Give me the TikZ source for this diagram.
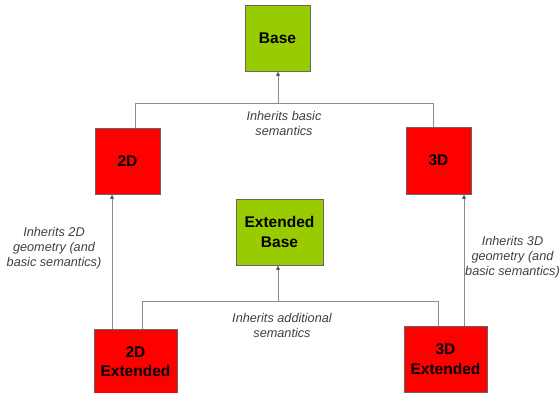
\documentclass[tikz,border=0pt]{standalone}
\usepackage{fontspec}
\setmainfont{Liberation Sans}
\usetikzlibrary{arrows.meta}

\definecolor{limegreen}{HTML}{99CC00}
\definecolor{boxred}{HTML}{FF0000}

\begin{document}
\begin{tikzpicture}[x=1pt,y=-1pt,
    box/.style={draw=black!60, inner sep=0pt, align=center,
      font=\fontsize{15.5}{19.5}\selectfont\bfseries},
    base/.style={box, fill=limegreen},
    kind/.style={box, fill=boxred},
    link/.style={draw=black!45, line width=0.8pt},
    inherit/.style={link, -{Triangle[length=5pt,width=4.5pt,fill=black]}},
    note/.style={align=center, text=black!75,
      font=\fontsize{12.7}{15}\selectfont\itshape}]
      \useasboundingbox (0,0) rectangle (560,393);
      % the two bases
      \node[base, minimum width=65pt, minimum height=66pt] (base) at (277.5,38) {Base};
      \node[base, minimum width=87pt, minimum height=66pt] (extbase) at (279.5,232) {Extended\\Base};
      % 2D and 3D
      \node[kind, minimum width=65pt, minimum height=66pt] (twoD) at (127.5,161) {2D};
      \node[kind, minimum width=65pt, minimum height=67pt] (threeD) at (438.5,160.5) {3D};
      \node[kind, minimum width=83pt, minimum height=65pt] (twoDext) at (135.5,361.5) {2D\\Extended};
      \node[kind, minimum width=83pt, minimum height=66pt] (threeDext) at (445.5,359) {3D\\Extended};
      % junctions
      \coordinate (top) at (278,103);
      \coordinate (mid) at (278,301);
      % connectors
      \draw[link] ([xshift=7.5pt]twoD.north) |- (top);
      \draw[link] ([xshift=-5.5pt]threeD.north) |- (top);
      \draw[inherit] (top) -- (top |- base.south);
      \draw[link] ([xshift=6.5pt]twoDext.north) |- (mid);
      \draw[link] ([xshift=-7.5pt]threeDext.north) |- (mid);
      \draw[inherit] (mid) -- (mid |- extbase.south);
      \draw[inherit] ([xshift=-23.5pt]twoDext.north) -- ([xshift=-23.5pt]twoDext.north |- twoD.south);
      \draw[inherit] ([xshift=18.5pt]threeDext.north) -- ([xshift=18.5pt]threeDext.north |- threeD.south);
      % labels
      \node[note] (lbasic) at (284,123) {Inherits basic\\semantics};
      \node[note] (ladd) at (282,325.5) {Inherits additional\\semantics};
      \node[note] (l2d) at (54,248) {Inherits 2D\\geometry (and\\basic semantics)};
      \node[note] (l3d) at (512.5,257) {Inherits 3D\\geometry (and\\basic semantics)};
\end{tikzpicture}
\end{document}
